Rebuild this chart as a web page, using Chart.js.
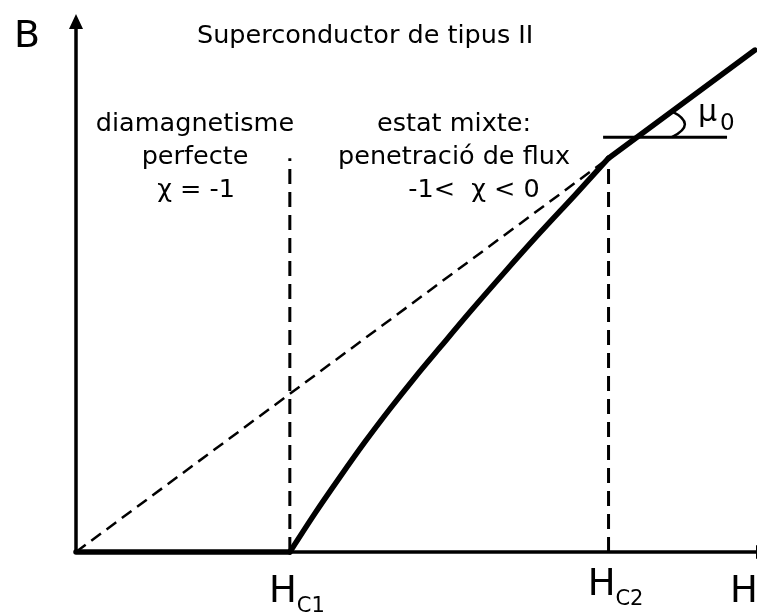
<!DOCTYPE html>
<html>
<head>
<meta charset="utf-8">
<script src="https://cdn.jsdelivr.net/npm/chart.js@4/dist/chart.umd.min.js"></script>
<style>
  html, body { margin: 0; padding: 0; background: #fff; }
  #wrap { width: 757px; height: 614px; }
</style>
</head>
<body>
<div id="wrap"><canvas id="c" width="757" height="614"></canvas></div>
<script>
// ─────────────────────────────────────────
// DATA (H and B in arbitrary units)
// ─────────────────────────────────────────
const H_C1 = 3.14;
const H_C2 = 7.82;
const B_C2 = 7.32;

// perfect diamagnetism: B = 0 up to Hc1
const hMeissner = [0, H_C1];
const bMeissner = [0, 0];

// mixed state, flux penetration
const hMixed = [3.14, 3.51, 3.88, 4.24, 4.61, 4.98, 5.35, 5.79, 6.30, 6.81, 7.33, 7.82];
const bMixed = [0, 0.72, 1.40, 2.04, 2.66, 3.25, 3.81, 4.47, 5.21, 5.93, 6.64, 7.32];

// normal state, B = mu0 H
const hNormal = [7.82, 9.97];
const bNormal = [7.32, 9.33];

// dashed reference line B = mu0 H from origin
const hLinear = [0, 7.82];
const bLinear = [0, 7.32];

// horizontal reference for the mu0 angle
const hRef = [7.74, 9.56];
const bRef = [7.71, 7.71];
const H_ARC = 8.75;

const TITLE = 'Superconductor de tipus II';
const LEFT_LINES = ['diamagnetisme', 'perfecte', 'χ = -1'];
const RIGHT_LINES = ['estat mixte:', 'penetració de flux', '-1<  χ < 0'];

const FONT = "'DejaVu Sans', Verdana, sans-serif";

const pts = (xs, ys) => xs.map((x, i) => ({ x, y: ys[i] }));

// ─────────────────────────────────────────
// PLUGINS — axes with arrows, labels
// ─────────────────────────────────────────
const axesPlugin = {
  id: 'axes',
  beforeDatasetsDraw(chart) {
    const { ctx, chartArea: a } = chart;
    ctx.save();
    ctx.strokeStyle = '#000';
    ctx.fillStyle = '#000';
    ctx.lineWidth = 3.5;
    // y axis
    ctx.beginPath();
    ctx.moveTo(a.left, a.bottom + 1);
    ctx.lineTo(a.left, a.top + 10);
    ctx.stroke();
    ctx.beginPath();
    ctx.moveTo(a.left, a.top);
    ctx.lineTo(a.left - 7, a.top + 15);
    ctx.lineTo(a.left + 7, a.top + 15);
    ctx.closePath();
    ctx.fill();
    // x axis
    ctx.beginPath();
    ctx.moveTo(a.left, a.bottom);
    ctx.lineTo(a.right, a.bottom);
    ctx.stroke();
    ctx.beginPath();
    ctx.moveTo(a.right + 14, a.bottom);
    ctx.lineTo(a.right - 1, a.bottom - 7);
    ctx.lineTo(a.right - 1, a.bottom + 7);
    ctx.closePath();
    ctx.fill();
    ctx.restore();
  },
  afterDatasetsDraw(chart) {
    const { ctx, scales: { x, y } } = chart;
    ctx.save();
    ctx.fillStyle = '#000';
    ctx.strokeStyle = '#000';

    // angle arc for mu0
    const slope = (bNormal[1] - bNormal[0]) / (hNormal[1] - hNormal[0]);
    const bOnLine = bNormal[0] + (H_ARC - hNormal[0]) * slope;
    const ax = x.getPixelForValue(H_ARC);
    const y1 = y.getPixelForValue(bOnLine);
    const y2 = y.getPixelForValue(bRef[0]);
    ctx.lineWidth = 2.5;
    ctx.beginPath();
    ctx.moveTo(ax, y1);
    ctx.quadraticCurveTo(ax + 26, (y1 + y2) / 2, ax, y2);
    ctx.stroke();

    ctx.textBaseline = 'alphabetic';
    ctx.textAlign = 'left';
    ctx.font = `38px ${FONT}`;
    ctx.fillText('B', 14, 47);

    ctx.font = `25.5px ${FONT}`;
    ctx.fillText(TITLE, 197, 43);

    ctx.textAlign = 'center';
    const leftX = [195, 195, 196];
    LEFT_LINES.forEach((t, i) => ctx.fillText(t, leftX[i], 131 + i * 33));
    const rightX = [454, 454, 474];
    RIGHT_LINES.forEach((t, i) => ctx.fillText(t, rightX[i], 131 + i * 33));

    // H labels with subscripts
    const sub = (main, s, xPix, base) => {
      ctx.textAlign = 'left';
      ctx.font = `37px ${FONT}`;
      const w = ctx.measureText(main).width;
      const x0 = xPix - w / 2 - 2;
      ctx.fillText(main, x0, base);
      ctx.font = `21px ${FONT}`;
      ctx.fillText(s, x0 + w, base + 10);
    };
    sub('H', 'C1', x.getPixelForValue(H_C1) - 5, 602);
    sub('H', 'C2', x.getPixelForValue(H_C2) - 5, 595);

    ctx.font = `37px ${FONT}`;
    ctx.textAlign = 'left';
    ctx.fillText('H', 730, 602);

    // mu0
    ctx.font = `30px ${FONT}`;
    ctx.fillText('μ', 698, 121);
    ctx.font = `23px ${FONT}`;
    ctx.fillText('0', 720, 130);
    ctx.restore();
  }
};

// ─────────────────────────────────────────
// CHART
// ─────────────────────────────────────────
const thick = {
  showLine: true,
  borderColor: '#000',
  borderWidth: 5.5,
  pointRadius: 0,
  borderCapStyle: 'round',
  borderJoinStyle: 'round',
  clip: false,
};
const dashed = {
  showLine: true,
  borderColor: '#000',
  borderWidth: 3,
  borderDash: [15, 8],
  pointRadius: 0,
  clip: false,
};

new Chart(document.getElementById('c'), {
  type: 'scatter',
  data: {
    datasets: [
      { ...dashed, borderWidth: 2.5, borderDash: [12, 7], data: pts(hLinear, bLinear) },
      { ...dashed, data: pts([H_C1, H_C1], [0, B_C2]) },
      { ...dashed, data: pts([H_C2, H_C2], [0, B_C2]) },
      { ...thick, borderWidth: 3, borderCapStyle: 'butt', data: pts(hRef, bRef) },
      { ...thick, data: pts(hMeissner, bMeissner) },
      { ...thick, cubicInterpolationMode: 'monotone', data: pts(hMixed, bMixed) },
      { ...thick, data: pts(hNormal, bNormal) },
    ],
  },
  options: {
    responsive: false,
    animation: false,
    layout: { padding: { left: 76, right: 0, top: 14, bottom: 62 } },
    plugins: { legend: { display: false }, tooltip: { enabled: false } },
    scales: {
      x: { type: 'linear', min: 0, max: 10, display: false },
      y: { type: 'linear', min: 0, max: 10, display: false },
    },
  },
  plugins: [axesPlugin],
});
</script>
</body>
</html>
